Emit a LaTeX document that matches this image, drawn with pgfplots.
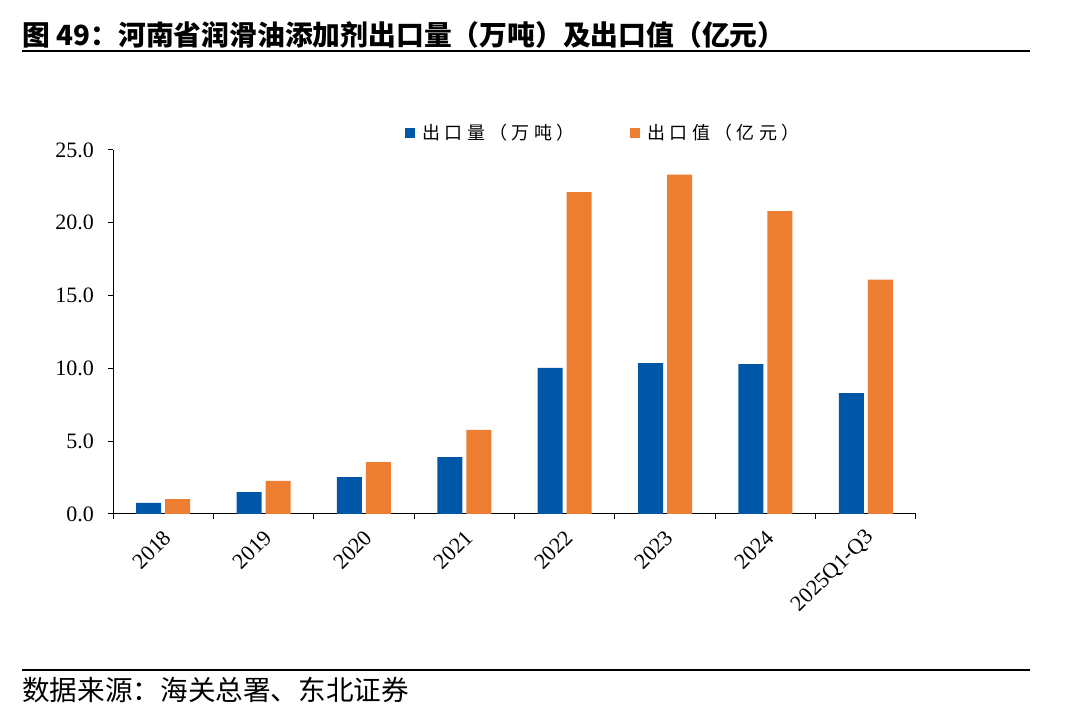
\documentclass[border=0pt]{standalone}
\usepackage{fontspec}
\setmainfont{Liberation Serif}
\newfontfamily\cjk{Noto Sans CJK SC}
\newfontfamily\cjkl[LetterSpace=24]{Noto Sans CJK SC}
\usepackage{pgfplots}
\pgfplotsset{compat=1.18}
\definecolor{cblue}{RGB}{0,87,168}
\definecolor{corange}{RGB}{237,125,49}

\begin{document}
\begin{tikzpicture}
% canvas: 1 px of the reference = 0.5pt
\path[use as bounding box] (0,0) rectangle (540pt,361pt);

\node[anchor=west, inner sep=0pt, font=\cjk\bfseries\fontsize{13.9}{16}\selectfont]
  at (11pt,343.5pt) {图 49：河南省润滑油添加剂出口量（万吨）及出口值（亿元）};
\draw[line width=1.1pt] (11pt,335.5pt) -- (515pt,335.5pt);
\draw[line width=1.1pt] (11pt,26pt) -- (515pt,26pt);
\node[anchor=west, inner sep=0pt, font=\cjk\fontsize{13.8}{16}\selectfont]
  at (11pt,16pt) {数据来源：海关总署、东北证券};

\begin{axis}[
  at={(56.5pt,104pt)}, anchor=south west,
  scale only axis, width=401.5pt, height=182pt,
  ybar=2pt, bar width=12.5pt,
  xmin=-0.5, xmax=7.5, ymin=0, ymax=25,
  axis x line=bottom, axis y line=left,
  axis line style={-, line width=0.5pt},
  tick align=outside, major tick length=2.5pt,
  tick style={black, line width=0.5pt},
  xtick={-0.5,0.5,...,7.5}, xticklabels={},
  extra x ticks={0,1,2,3,4,5,6,7},
  extra x tick labels={2018,2019,2020,2021,2022,2023,2024,2025Q1-Q3},
  extra x tick style={major tick length=0pt,
    tick label style={rotate=45, anchor=east, inner sep=1pt, yshift=-8.7pt, xshift=-4.4pt}},
  ytick={0,5,...,25},
  yticklabel style={/pgf/number format/fixed, /pgf/number format/fixed zerofill,
    /pgf/number format/precision=1, xshift=-3.5pt},
  /pgf/number format/assume math mode=true,
  tick label style={font=\fontsize{11}{12}\selectfont},
  legend style={at={(0.612,1.047)}, anchor=center, draw=none, fill=none,
    legend columns=2, font=\cjkl\fontsize{9}{10}\selectfont,
    /tikz/every even column/.append style={column sep=26pt}},
  legend image code/.code={\fill[#1] (0pt,-2.4pt) rectangle (4.8pt,2.4pt);
    \path (0pt,0pt) -- (6.6pt,0pt);},
]
\addplot[fill=cblue, draw=none] coordinates {
  (0,0.76) (1,1.51) (2,2.54) (3,3.91) (4,10.03) (5,10.37) (6,10.30) (7,8.31)};
\addplot[fill=corange, draw=none] coordinates {
  (0,1.03) (1,2.27) (2,3.57) (3,5.77) (4,22.10) (5,23.30) (6,20.80) (7,16.10)};
\legend{出口量（万吨）,出口值（亿元）}
\end{axis}
\end{tikzpicture}
\end{document}
